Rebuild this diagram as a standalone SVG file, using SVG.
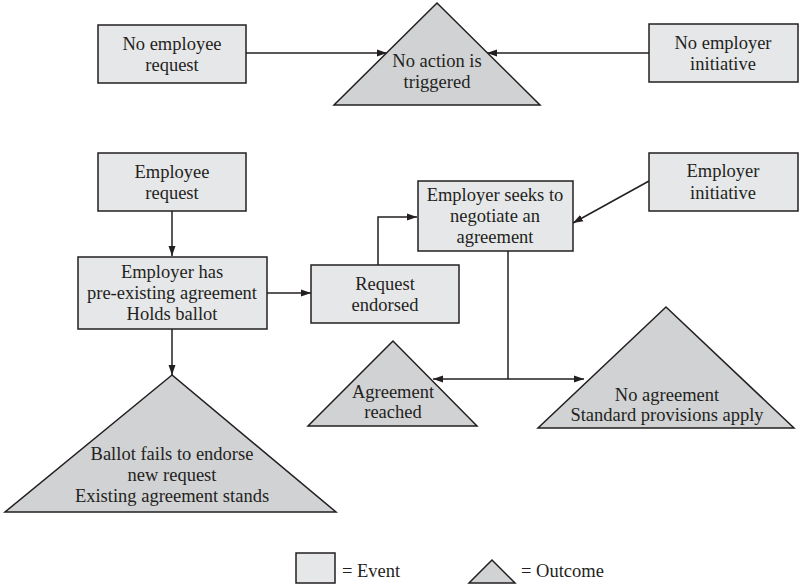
<svg xmlns="http://www.w3.org/2000/svg" width="799" height="584" viewBox="0 0 799 584">
<style>
.ev{fill:#e6e7e9;stroke:#231f20;stroke-width:1.5}
.oc{fill:#d1d2d4;stroke:#231f20;stroke-width:1.5}
text{font-family:"Liberation Serif","Times New Roman",serif;font-size:18.5px;fill:#231f20;text-anchor:middle}
.c{fill:none;stroke:#231f20;stroke-width:1.5}
</style>
<defs>
<marker id="ah" viewBox="0 0 10 10" refX="10" refY="5" markerWidth="10" markerHeight="10" markerUnits="userSpaceOnUse" orient="auto">
<path d="M0,1.5 L10,5 L0,8.5 Z" fill="#231f20"/>
</marker>
</defs>
<rect width="799" height="584" fill="#ffffff"/>
<g id="connectors">
<path class="c" d="M246,53 H387" marker-end="url(#ah)"/>
<path class="c" d="M649,53 H487" marker-end="url(#ah)"/>
<path class="c" d="M172,211 V256" marker-end="url(#ah)"/>
<path class="c" d="M172,329 V375" marker-end="url(#ah)"/>
<path class="c" d="M267,293 H311" marker-end="url(#ah)"/>
<path class="c" d="M378,265 V217 H417" marker-end="url(#ah)"/>
<path class="c" d="M649,181 L573,223" marker-end="url(#ah)"/>
<path class="c" d="M508,251 V379"/>
<path class="c" d="M508,379 H433" marker-end="url(#ah)"/>
<path class="c" d="M508,379 H584" marker-end="url(#ah)"/>
</g>
<g id="no-employee-request">
<rect class="ev" x="98" y="25" width="148" height="58"/>
<text x="172" y="50">No employee</text>
<text x="172" y="71">request</text>
</g>
<g id="no-action">
<polygon class="oc" points="437,3 334,105 540,105"/>
<text x="437" y="67">No action is</text>
<text x="437" y="88">triggered</text>
</g>
<g id="no-employer-initiative">
<rect class="ev" x="649" y="24" width="149" height="58"/>
<text x="723" y="49">No employer</text>
<text x="723" y="70">initiative</text>
</g>
<g id="employee-request">
<rect class="ev" x="98" y="153" width="148" height="58"/>
<text x="172" y="178">Employee</text>
<text x="172" y="199">request</text>
</g>
<g id="employer-has">
<rect class="ev" x="78" y="257" width="189" height="72"/>
<text x="172" y="278">Employer has</text>
<text x="172" y="299">pre-existing agreement</text>
<text x="172" y="320">Holds ballot</text>
</g>
<g id="request-endorsed">
<rect class="ev" x="311" y="265" width="148" height="58"/>
<text x="385" y="290">Request</text>
<text x="385" y="311">endorsed</text>
</g>
<g id="employer-seeks">
<rect class="ev" x="418" y="181" width="155" height="70"/>
<text x="495" y="201">Employer seeks to</text>
<text x="495" y="222">negotiate an</text>
<text x="495" y="243">agreement</text>
</g>
<g id="employer-initiative">
<rect class="ev" x="649" y="153" width="149" height="58"/>
<text x="723" y="177">Employer</text>
<text x="723" y="199">initiative</text>
</g>
<g id="ballot-fails">
<polygon class="oc" points="172,375 5,512 336,512"/>
<text x="172" y="460">Ballot fails to endorse</text>
<text x="172" y="481">new request</text>
<text x="172" y="502">Existing agreement stands</text>
</g>
<g id="agreement-reached">
<polygon class="oc" points="393,341 308,426 477,426"/>
<text x="393" y="398">Agreement</text>
<text x="393" y="418">reached</text>
</g>
<g id="no-agreement">
<polygon class="oc" points="666,307 538,428 794,428"/>
<text x="667" y="401">No agreement</text>
<text x="667" y="421">Standard provisions apply</text>
</g>
<g id="legend">
<rect class="ev" x="296" y="553" width="39" height="30"/>
<text x="342" y="577" style="text-anchor:start">= Event</text>
<polygon class="oc" points="492,560 469,583 515,583"/>
<text x="521" y="577" style="text-anchor:start">= Outcome</text>
</g>
</svg>
